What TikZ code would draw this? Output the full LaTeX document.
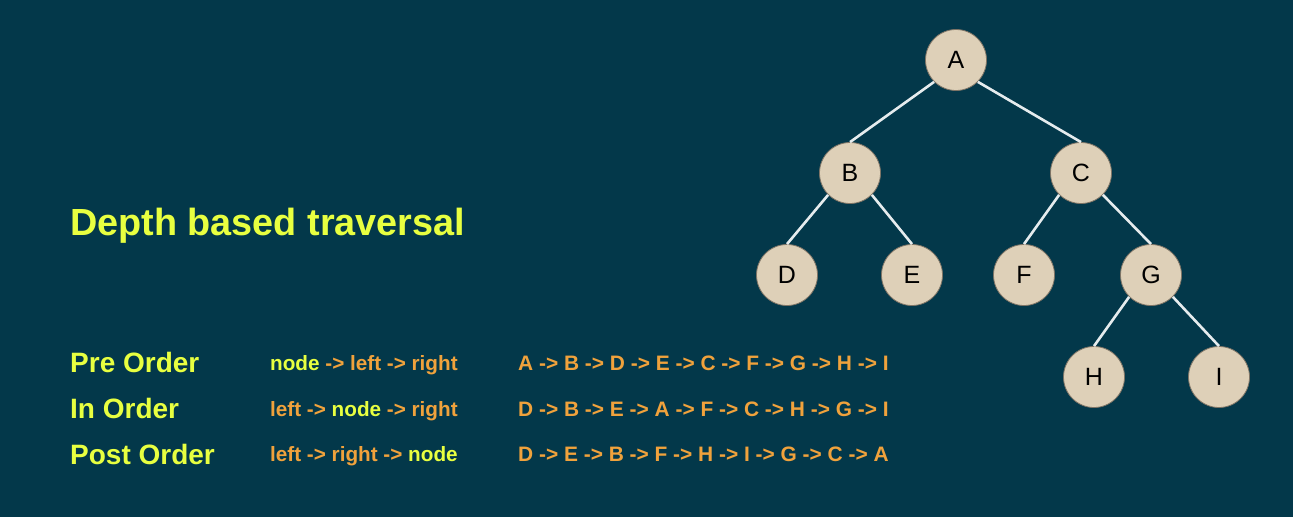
\documentclass[tikz,border=0pt]{standalone}
\usepackage{fontspec}
\setmainfont{Liberation Sans}
\definecolor{bgc}{HTML}{03384A}
\definecolor{ylw}{HTML}{E8FF40}
\definecolor{org}{HTML}{F0A23C}
\definecolor{tan}{HTML}{DED0B8}
\definecolor{rim}{HTML}{7E7466}
\definecolor{edgec}{HTML}{E6ECEE}
\tikzset{
  tnode/.style={circle, minimum size=61pt, inner sep=0pt, fill=tan, draw=rim, line width=0.8pt, font=\fontsize{25}{25}\selectfont, text=black},
  tedge/.style={draw=edgec, line width=2.6pt},
  title/.style={anchor=base west, inner sep=0pt, text=ylw, font=\fontsize{37.8}{40}\selectfont\bfseries},
  lbl/.style={anchor=base west, inner sep=0pt, text=ylw, font=\fontsize{28}{30}\selectfont\bfseries},
  rule/.style={anchor=base west, inner sep=0pt, text=org, font=\fontsize{20.7}{22}\selectfont\bfseries},
  seq/.style={anchor=base west, inner sep=0pt, text=org, font=\fontsize{20.9}{22}\selectfont\bfseries}
}
\newcommand{\hl}[1]{\textcolor{ylw}{#1}}
\begin{document}
\begin{tikzpicture}[x=1pt,y=-1pt]
\fill[bgc] (0,0) rectangle (1293,517);
\useasboundingbox (0,0) rectangle (1293,517);
% tree
\node[tnode] (A) at (956,60) {A};
\node[tnode] (B) at (850,173) {B};
\node[tnode] (C) at (1081,173) {C};
\node[tnode] (D) at (787,275) {D};
\node[tnode] (E) at (912,275) {E};
\node[tnode] (F) at (1024,275) {F};
\node[tnode] (G) at (1151,275) {G};
\node[tnode] (H) at (1094,377) {H};
\node[tnode] (I) at (1219,377) {I};
\draw[tedge] (A.south west) -- (B.north);
\draw[tedge] (A.south east) -- (C.north);
\draw[tedge] (B.south west) -- (D.north);
\draw[tedge] (B.south east) -- (E.north);
\draw[tedge] (C.south west) -- (F.north);
\draw[tedge] (C.south east) -- (G.north);
\draw[tedge] (G.south west) -- (H.north);
\draw[tedge] (G.south east) -- (I.north);
% text
\node[title] (t) at (70,235) {Depth based traversal};
\node[lbl] (l1) at (70,372.5) {Pre Order};
\node[lbl] (l2) at (70,418.5) {In Order};
\node[lbl] (l3) at (70,464) {Post Order};
\node[rule] (r1) at (270,370.5) {\hl{node} -> left -> right};
\node[rule] (r2) at (270,416) {left -> \hl{node} -> right};
\node[rule] (r3) at (270,461) {left -> right -> \hl{node}};
\node[seq] (s1) at (518,370.5) {A -> B -> D -> E -> C -> F -> G -> H -> I};
\node[seq] (s2) at (518,416) {D -> B -> E -> A -> F -> C -> H -> G -> I};
\node[seq] (s3) at (518,461) {D -> E -> B -> F -> H -> I -> G -> C -> A};
\end{tikzpicture}
\end{document}
